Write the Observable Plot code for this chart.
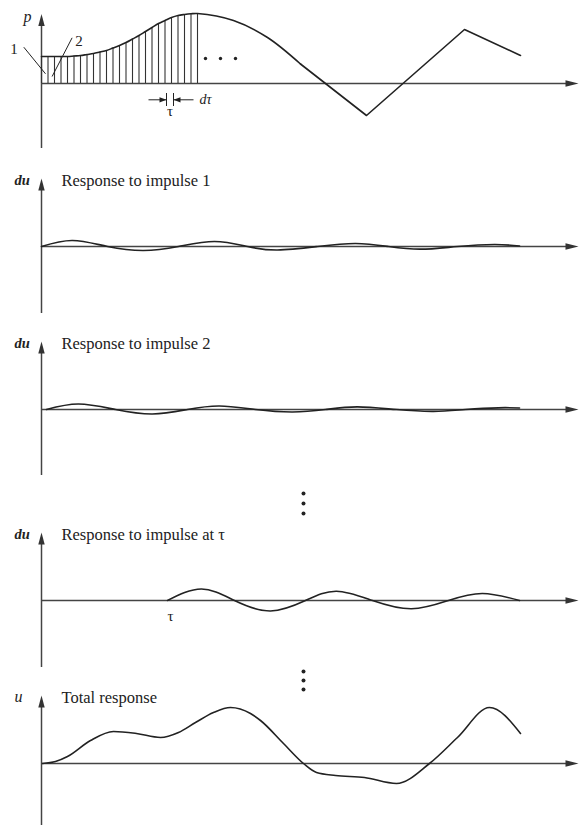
<!DOCTYPE html>
<html><head><meta charset="utf-8">
<script src="https://cdn.jsdelivr.net/npm/d3@7"></script>
<script src="https://cdn.jsdelivr.net/npm/@observablehq/plot@0.6"></script>
<style>
html,body{margin:0;padding:0;background:#fff;}
#chart{width:583px;}
#chart svg{display:block;}
</style></head><body><div id="chart"></div>
<script>
// ---------- Panel 1: applied force p(t) ----------
// smooth part (first 25 points are also the dτ strips / hatch lines)
const forceT = [0,0.325,0.65,0.975,1.3,1.625,1.95,2.275,2.6,2.925,3.25,3.575,3.9,4.225,4.55,4.875,5.2,5.525,5.85,6.175,6.5,6.825,7.15,7.475,7.8,9.6,11.3,12.95];
const forceP = [2.7,2.7,2.7,2.7,2.7,2.75,2.8,2.9,3.0,3.15,3.3,3.55,3.8,4.1,4.45,4.8,5.2,5.6,6.0,6.3,6.6,6.8,6.9,6.97,7.0,6.3,4.6,1.95];
const hatchCount = 25;
// piecewise-linear part
const forceLinT = [12.95,16.25,21.15,23.95];
const forceLinP = [1.95,-3.2,5.4,2.8];
// impulse labels 1, 2 with leader lines
const impLabels = ["1","2"];
const impLabelT = [-1.375,1.875];
const impLabelP = [3.0,3.8];
const leaderStartT = [-0.885,1.53];
const leaderStartP = [3.63,4.57];
const leaderEndT = [0.2,0.53];
const leaderEndP = [0.97,0.7];
// dτ marker
const dtEdges = [6.25,6.6];
const dtTickP = [-1.0,-2.3];
const dtArrowFrom = [5.35,7.6];
const dtArrowP = -1.63;
const ellipsisT = [8.2,8.95,9.7];
const ellipsisP = 2.5;

// ---------- Panel 2: response to impulse 1 ----------
const r1T = [0,1.55,3.3,5.1,6.85,8.65,10.3,11.8,13.8,15.7,17.35,18.95,20.8,22.65,23.9];
const r1U = [0,0.6,0,-0.4,0,0.5,0,-0.35,0,0.3,0,-0.27,0,0.2,0.05];
// ---------- Panel 3: response to impulse 2 ----------
const r2T = [0.25,1.85,3.7,5.55,7.3,8.9,10.7,12.55,14.2,15.8,17.75,19.6,21.2,22.85,23.9];
const r2U = [0,0.55,0,-0.45,0,0.35,0,-0.25,0,0.27,0,-0.18,0,0.17,0.15];
// ---------- Panel 4: response to impulse at τ ----------
const rTauT = [6.3,8.0,9.65,11.45,13.2,14.75,16.55,18.5,20.35,22.05,23.9];
const rTauU = [0,1.15,0,-1.05,0,0.93,0,-0.83,0,0.7,0];
const tauT = 6.45;
// ---------- Panel 5: total response ----------
const totT = [0.05,0.7,1.3,2.45,3.6,4.75,5.95,6.85,7.7,8.6,9.45,10.45,10.95,12.1,13.1,13.75,14.7,16.15,17.75,19.4,20.8,22.4,23.95];
const totU = [0,0.2,0.7,2.3,3.2,3.0,2.6,3.1,4.1,5.1,5.6,5.0,4.3,2.0,0,-0.9,-1.2,-1.4,-2.0,0,2.6,5.6,3.0];
// vertical ellipsis between panels
const vdotsT = 13.1;
const vdots4 = [10.7,9.7,8.7];
const vdots5 = [9.2,8.3,7.4];

const titles = ["Response to impulse 1","Response to impulse 2","Response to impulse at τ","Total response"];
const yLabels = ["p","du","du","du","u"];

// ---------- helpers ----------
const INK = "#222", AXIS = "#444";
const SERIF = "'Liberation Serif','Times New Roman',serif";
const XTIP = 26.85;
const arrowUp = {draw(c){c.moveTo(0,0);c.lineTo(3.2,12);c.lineTo(-3.2,12);c.closePath();}};
const arrowRight = {draw(c){c.moveTo(0,0);c.lineTo(-13,-3.2);c.lineTo(-13,3.2);c.closePath();}};
const smallRight = {draw(c){c.moveTo(0,0);c.lineTo(-7,-2.6);c.lineTo(-7,2.6);c.closePath();}};
const smallLeft = {draw(c){c.moveTo(0,0);c.lineTo(7,-2.6);c.lineTo(7,2.6);c.closePath();}};
const pts = (T, V) => T.map((t, i) => ({t, v: V[i]}));

function panel(H, z, axisTop, axisBottom, yLabel, title, marks) {
  const textMarks = [
    Plot.text([yLabel], {x: yLabel === "p" ? -0.9 : -1.35, y: yLabel === "p" ? 6.15 : 6.2, text: d => d, textAnchor: "start", lineAnchor: "bottom", fontStyle: "italic", fontSize: yLabel === "du" ? 14.5 : 16, fontWeight: yLabel === "du" ? 600 : 400, fill: INK})
  ];
  if (title) textMarks.push(Plot.text([title], {x: 1.0, y: 6.05, text: d => d, textAnchor: "start", lineAnchor: "bottom", fontSize: 16.5, fill: INK}));
  return Plot.plot({
    width: 583, height: H,
    marginLeft: 0, marginRight: 0, marginTop: 0, marginBottom: 0,
    x: {domain: [0, 27], range: [41, 581], axis: null},
    y: {domain: [-(H - z) / 10, z / 10], range: [H, 0], axis: null},
    style: {background: "#fff", fontFamily: SERIF},
    marks: [
      Plot.ruleX([0], {y1: axisBottom, y2: axisTop - 0.5, stroke: AXIS, strokeWidth: 1.5}),
      Plot.dot([0], {x: 0, y: axisTop, symbol: arrowUp, fill: "#333", stroke: "none"}),
      Plot.ruleY([0], {x1: 0, x2: XTIP - 0.4, stroke: AXIS, strokeWidth: 1.3}),
      Plot.dot([0], {x: XTIP, y: 0, symbol: arrowRight, fill: "#333", stroke: "none"}),
      ...marks,
      ...textMarks
    ]
  });
}

const chart = document.getElementById("chart");
const forceSmooth = pts(forceT, forceP);
const hatch = forceSmooth.slice(0, hatchCount);

chart.append(panel(163, 83, 6.95, -6.5, yLabels[0], null, [
  Plot.ruleX(hatch, {x: "t", y1: 0, y2: "v", stroke: "#333", strokeWidth: 1.1}),
  Plot.line(forceSmooth, {x: "t", y: "v", curve: "catmull-rom", stroke: INK, strokeWidth: 1.6}),
  Plot.line(pts(forceLinT, forceLinP), {x: "t", y: "v", stroke: INK, strokeWidth: 1.6}),
  Plot.link(impLabels, {x1: (d, i) => leaderStartT[i], y1: (d, i) => leaderStartP[i], x2: (d, i) => leaderEndT[i], y2: (d, i) => leaderEndP[i], stroke: INK, strokeWidth: 1}),
  Plot.text(impLabels, {x: (d, i) => impLabelT[i], y: (d, i) => impLabelP[i], text: d => d, lineAnchor: "bottom", fontSize: 15, fill: INK}),
  Plot.ruleX(dtEdges, {x: d => d, y1: dtTickP[0], y2: dtTickP[1], stroke: INK, strokeWidth: 1}),
  Plot.link(dtEdges, {x1: (d, i) => dtArrowFrom[i], x2: d => d, y1: dtArrowP, y2: dtArrowP, stroke: INK, strokeWidth: 1}),
  Plot.dot(dtEdges, {x: d => d, y: dtArrowP, symbol: (d, i) => i === 0 ? smallRight : smallLeft, fill: INK, stroke: "none"}),
  Plot.text(["dτ"], {x: 7.9, y: -2.0, text: d => d, textAnchor: "start", lineAnchor: "bottom", fontStyle: "italic", fontSize: 14, fill: INK}),
  Plot.text(["τ"], {x: 6.42, y: -3.2, text: d => d, lineAnchor: "bottom", fontSize: 15, fill: INK}),
  Plot.dot(ellipsisT, {x: d => d, y: ellipsisP, r: 1.7, fill: INK, stroke: "none"})
]));

chart.append(panel(163, 83, 6.8, -6.7, yLabels[1], titles[0], [
  Plot.line(pts(r1T, r1U), {x: "t", y: "v", curve: "natural", stroke: INK, strokeWidth: 1.7})
]));

chart.append(panel(163, 83, 6.8, -6.6, yLabels[2], titles[1], [
  Plot.line(pts(r2T, r2U), {x: "t", y: "v", curve: "natural", stroke: INK, strokeWidth: 1.7})
]));

chart.append(panel(178, 111, 6.8, -6.7, yLabels[3], titles[2], [
  Plot.line(pts(rTauT, rTauU), {x: "t", y: "v", curve: "natural", stroke: INK, strokeWidth: 1.6}),
  Plot.text(["τ"], {x: tauT, y: -2.0, text: d => d, lineAnchor: "bottom", fontSize: 15, fill: INK}),
  Plot.dot(vdots4, {x: vdotsT, y: d => d, r: 2, fill: INK, stroke: "none"})
]));

chart.append(panel(158, 96, 6.8, -6.3, yLabels[4], titles[3], [
  Plot.line(pts(totT, totU), {x: "t", y: "v", curve: "monotone-x", stroke: INK, strokeWidth: 1.6}),
  Plot.dot(vdots5, {x: vdotsT, y: d => d, r: 2, fill: INK, stroke: "none"})
]));
</script>
</body></html>
